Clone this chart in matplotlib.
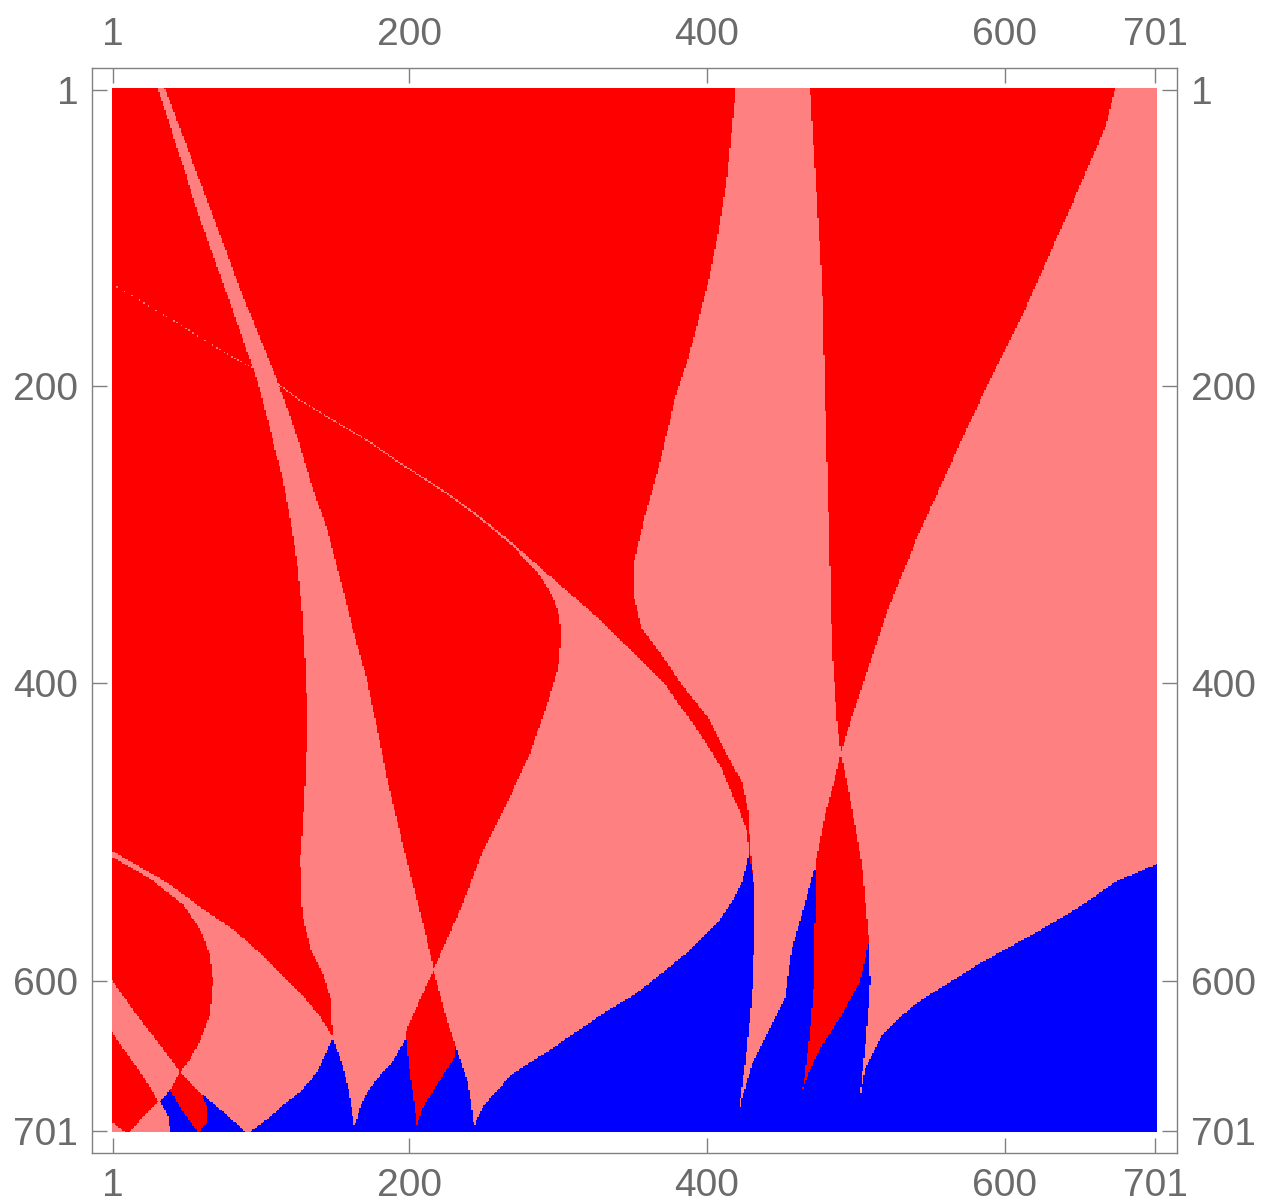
import numpy as np
import matplotlib
matplotlib.use('Agg')
import matplotlib.pyplot as plt
from matplotlib.colors import ListedColormap
from matplotlib.path import Path

plt.rcParams['font.family'] = ['Liberation Sans', 'DejaVu Sans']

N = 701
ticks = [1, 200, 400, 600, 701]
colors = ['#ff0000', '#ff8080', '#0000ff']   # 0 = red, 1 = light red, 2 = blue

# region outlines as (column, row) of the matrix
band = [(31.3, -5), (31.3, 1), (58.2, 84.4), (78.4, 141), (97.9, 196.8), (106.7, 230.5),
        (115.4, 264.1), (121.5, 297.8), (124.8, 320), (128.2, 353.6), (130.2, 387.3),
        (131.6, 420.9), (130.9, 450.5), (130.2, 466), (128.2, 499.6),
        (126.8, 517.8), (128.2, 555.5), (133.6, 578.4), (142.3, 595.9), (147, 612),
        (148.4, 636.3), (153.8, 704), (234.5, 704), (216.3, 592.5), (207.6, 555.5),
        (198.8, 521.9), (185.4, 466), (178.7, 432.4), (171.9, 398.7), (162.5, 365.1),
        (153.8, 331.4), (145, 297.8), (133.6, 264.1), (123.5, 230.5), (111.4, 196.8),
        (88.5, 141), (67.6, 84.4), (36, 1), (36, -5)]

# thin line coming in from the left edge (centre row and thickness per column)
line_c = [3, 17.8, 29.3, 44.7, 59.5, 81.8, 97.9, 111.4, 126.8, 149, 171.9, 194.1,
          225.8, 248, 270.2]
line_r = [133.5, 142.3, 149.7, 158.5, 167.9, 181.3, 190.1, 198.8, 210.3, 223.7, 237.2,
          252.7, 272.9, 289.7, 307.9]
line_w = [0.2, 0.22, 0.25, 0.3, 0.35, 0.42, 0.48, 0.54, 0.6, 0.7, 0.85, 1.0,
          1.2, 1.5, 2.1]

lens = [(270.2, 306.9), (286.3, 321.0), (299.8, 333.4), (326.7, 356.3), (348.9, 378.5),
        (371.1, 400.7), (394, 432.4), (409.5, 457.3), (418.2, 479.5), (420.9, 484.2),
        (426.3, 499.6), (427.6, 513.1), (427.6, 704), (231.1, 704), (216.3, 592.5),
        (234.5, 551.5), (250, 511.1), (266.1, 479.5), (281.6, 445.8), (293.1, 412.2),
        (299.8, 390), (301.8, 367.1), (299.8, 351.6), (295.1, 340.2), (286.3, 326.0),
        (270.2, 309.0)]

right_pink = [(418.9, -10), (418.9, 1), (416.2, 28.6), (412.8, 62.2), (407.5, 95.9),
              (400.7, 129.5), (394, 156.4), (387.3, 181.3), (377.8, 210.3), (367.1, 255.4),
              (357.7, 289), (350.9, 317.9), (350.3, 340.2), (355.6, 363), (367.1, 378.5),
              (382.6, 400.7), (400.7, 423.6), (414.2, 450.5), (422.9, 466), (427.6, 488.2),
              (428.3, 511.1), (431, 533.3), (431.7, 566.9), (429.7, 612), (425, 656.5),
              (421.6, 681.3), (420.9, 691.5), (420.9, 710), (710, 710), (710, -10)]

low_lens = [(-5, 509), (0, 512.5), (37.3, 534), (59.5, 550.1), (81.8, 565.6), (104.6, 585.8),
            (126.8, 608), (140.3, 624.2), (148.4, 637.6), (148.4, 704), (46.1, 704),
            (46.1, 661.2), (52.8, 652.4), (59.5, 641), (66.3, 622.8), (68.3, 600.6),
            (66.3, 582.4), (59.5, 564.9), (48.1, 548.8), (25.9, 531.3), (0, 516.5), (-5, 513)]

low_band = [(-5, 595), (0, 598.5), (14.5, 619.4), (30.6, 640.3), (46.1, 661.2), (39.4, 673.3),
            (32.6, 681.3), (38, 690.1), (40.7, 704), (-5, 704)]

red_corner = [(-5, 630), (0, 633.5), (14.5, 654.4), (23.9, 667.9), (31.3, 680.7),
              (11.1, 702.5), (0, 694.5), (-5, 691)]

red_x2_top = [(468.7, -10), (468.7, 1), (472.1, 56.2), (476.8, 132.9), (478.8, 210.3),
              (481.5, 302.5), (483.5, 379.2), (486.9, 425), (489.6, 447.2), (497, 422.3),
              (508.4, 387.9), (521.9, 348.2), (539.4, 305.2), (557.5, 265.5), (575.7, 225.1),
              (593.2, 188.8), (613.4, 148.4), (633.6, 102.6), (651.7, 62.2), (667.2, 25.9),
              (673.3, 1), (673.3, -10)]

red_x2_low = [(489.6, 447.2), (493.6, 466), (503.7, 521.9), (508.4, 573.7), (502.3, 600.6),
              (490.2, 622.8), (476.8, 643), (468, 661.2), (463.3, 674.6), (462, 681.3),
              (464.7, 667.9), (468.7, 634.2), (471.4, 600.6), (472.1, 555.5), (472.1, 521.9),
              (478.8, 488.2), (484.9, 466)]

red_x1 = [(216.3, 592.5), (223.1, 618.8), (231.1, 644.3), (229.8, 652.4), (221.1, 665.9),
          (212.3, 679.3), (207.6, 688.1), (204.9, 696.8), (202.9, 679.3), (199.5, 656.5),
          (197.5, 634.2), (206.3, 614.1)]

lozenge = [(46.1, 661.2), (60.9, 676.6), (64.9, 686), (64.3, 694.8), (58.5, 702),
           (48.1, 688.1), (39.4, 673.3)]

blue = [(40.7, 710), (38, 690.1), (32.6, 681.3), (39.4, 673.3), (61.6, 676.6), (77.7, 690.1),
        (91.2, 702.5), (104.6, 692.8), (115.4, 683.4), (126.8, 674.6), (138.3, 661.2),
        (148.4, 638.3), (153.8, 652.4), (159.1, 672.6), (163.2, 698.2), (167.2, 684.7),
        (171.9, 674.6), (180.7, 663.2), (187.4, 656.5), (198.8, 636.3), (231.1, 644.3),
        (239.2, 667.9), (242.6, 690.1), (243.3, 697.5), (250, 683.4), (268.2, 663.2),
        (295.1, 645.7), (328.7, 622.8), (350.9, 609.3), (384.6, 582.4), (396, 571.7),
        (407.5, 560.2), (416.3, 546.8), (423, 533.3), (426.3, 521.9),
        (427.6, 513.1), (431, 533.3), (431.7, 566.9), (429.7, 612), (425, 656.5),
        (421.6, 681.3), (420.9, 691.5), (422.9, 679.3), (429.7, 656.5), (451.9, 612),
        (456.6, 578.4), (463.3, 555.5), (471.4, 525.2), (508.4, 573.7), (509.1, 600.6),
        (507.7, 622.8), (505.7, 645.7), (503.7, 663.2), (502.3, 680), (505.7, 659.2),
        (517.2, 636.3), (535.3, 618.8), (555.5, 605.3), (584.4, 587.1), (618.1, 569),
        (651.7, 548.8), (673.9, 533.3), (710, 518), (710, 710)]

line_c = np.array(line_c); line_r = np.array(line_r); line_w = np.array(line_w)
thin_line = list(zip(line_c, line_r - line_w / 2)) + list(zip(line_c[::-1], (line_r + line_w / 2)[::-1]))

# paint the matrix layer by layer
cc, rr = np.meshgrid(np.arange(1, N + 1), np.arange(1, N + 1))
pts = np.column_stack([cc.ravel(), rr.ravel()])
M = np.zeros((N, N), dtype=int)
layers = [(band, 1), (thin_line, 1), (lens, 1), (right_pink, 1), (low_lens, 1), (low_band, 1),
          (red_x2_top, 0), (red_corner, 0), (blue, 2),
          (red_x1, 0), (red_x2_low, 0), (lozenge, 0)]
for poly, val in layers:
    inside = Path(poly).contains_points(pts).reshape(N, N)
    M[inside] = val

fig = plt.figure(figsize=(12.66, 12.04), dpi=100)
ax = fig.add_axes([0.0727, 0.0424, 0.857, 0.9012])
ax.imshow(M, cmap=ListedColormap(colors), vmin=-0.5, vmax=2.5, interpolation='nearest',
          extent=(0.5, N + 0.5, N + 0.5, 0.5), aspect='auto')
ax.set_xlim(-12.9, 715.6)
ax.set_ylim(715.6, -13.6)
ax.set_xticks(ticks)
ax.set_yticks(ticks)
ax.tick_params(direction='in', length=10.8, width=1, color='#808080', labelcolor='#6b6b6b',
               labelsize=28, top=True, right=True, labeltop=True, labelright=True)
ax.tick_params(axis='x', pad=11)
ax.tick_params(axis='y', pad=10)
for s in ax.spines.values():
    s.set_color('#808080')
    s.set_linewidth(1)

plt.savefig('out.png', dpi=100)
